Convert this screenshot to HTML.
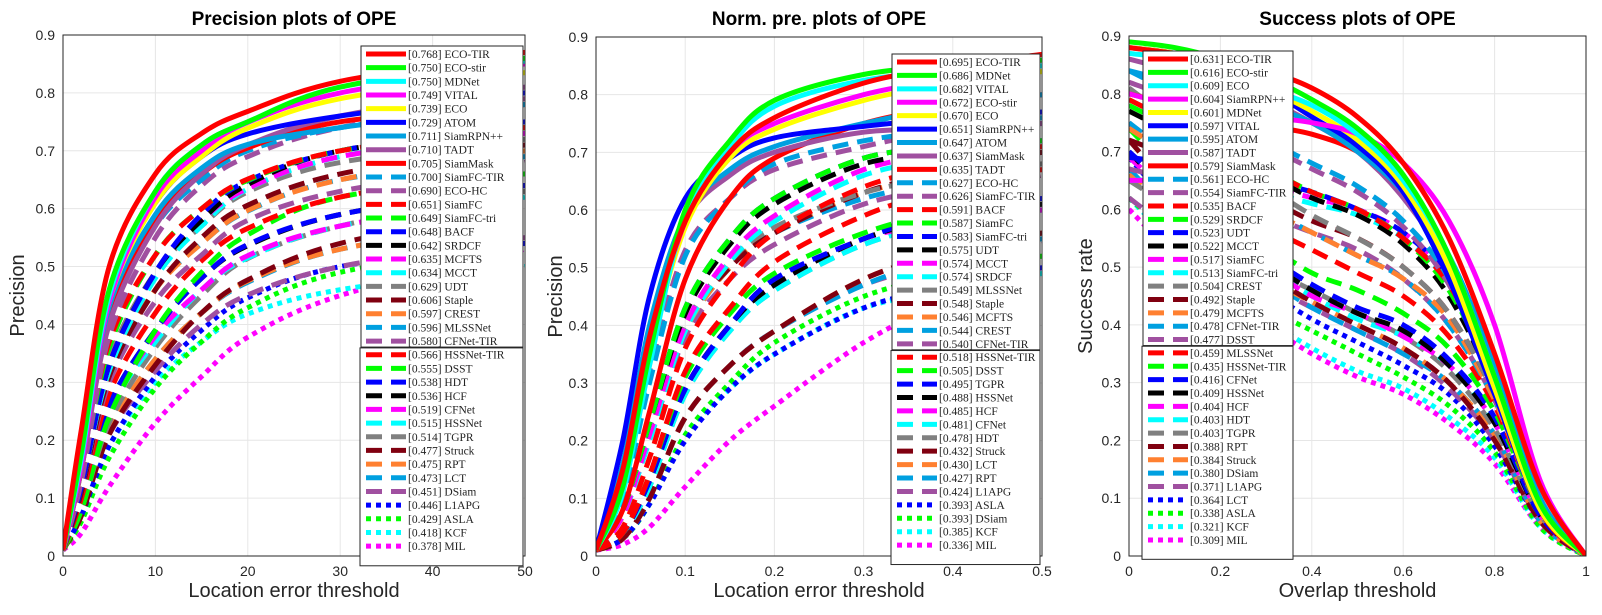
<!DOCTYPE html>
<html><head><meta charset="utf-8">
<style>
html,body{margin:0;padding:0;background:#fff;}
svg{display:block;}
.tick{font-family:"Liberation Sans",sans-serif;font-size:14px;fill:#262626;}
.ttl{font-family:"Liberation Sans",sans-serif;font-size:19px;font-weight:bold;fill:#000;}
.lab{font-family:"Liberation Sans",sans-serif;font-size:20px;fill:#262626;}
.leg{font-family:"Liberation Serif",serif;font-size:11.5px;fill:#222;}
</style></head>
<body>
<svg id="chart" width="1602" height="615" viewBox="0 0 1602 615" xmlns="http://www.w3.org/2000/svg"></svg>
<script>
const colors = ["#ff0000","#00ff00","#00ffff","#ff00ff","#ffff00","#0000ff","#00a0e0","#a050a0","#ff0000",
 "#00a0e0","#a050a0","#ff0000","#00ff00","#0000ff","#000000","#ff00ff","#00ffff","#808080","#800010","#ff8030","#00a0e0","#a050a0",
 "#ff0000","#00ff00","#0000ff","#000000","#ff00ff","#00ffff","#808080","#800010","#ff8030","#00a0e0","#a050a0",
 "#0000ff","#00ff00","#00ffff","#ff00ff"];

const p1X = [0,2,5,10,15,20,30,50];
const p1Names = ["ECO-TIR","ECO-stir","MDNet","VITAL","ECO","ATOM","SiamRPN++","TADT","SiamMask","SiamFC-TIR","ECO-HC","SiamFC","SiamFC-tri","BACF","SRDCF","MCFTS","MCCT","UDT","Staple","CREST","MLSSNet","CFNet-TIR","HSSNet-TIR","DSST","HDT","HCF","CFNet","HSSNet","TGPR","Struck","RPT","LCT","DSiam","L1APG","ASLA","KCF","MIL"];
const p1Scores = ["0.768","0.750","0.750","0.749","0.739","0.729","0.711","0.710","0.705","0.700","0.690","0.651","0.649","0.648","0.642","0.635","0.634","0.629","0.606","0.597","0.596","0.580","0.566","0.555","0.538","0.536","0.519","0.515","0.514","0.477","0.475","0.473","0.451","0.446","0.429","0.418","0.378"];
const p1Y = [
[0.01,0.22,0.50,0.66,0.73,0.768,0.82,0.87],
[0.01,0.18,0.46,0.63,0.71,0.750,0.81,0.86],
[0.01,0.17,0.45,0.63,0.71,0.750,0.81,0.855],
[0.01,0.16,0.44,0.62,0.70,0.749,0.80,0.85],
[0.01,0.17,0.44,0.61,0.69,0.739,0.79,0.835],
[0.01,0.18,0.45,0.61,0.69,0.729,0.76,0.80],
[0.01,0.17,0.43,0.59,0.67,0.711,0.74,0.78],
[0.01,0.15,0.40,0.57,0.66,0.710,0.76,0.81],
[0.01,0.15,0.41,0.58,0.66,0.705,0.75,0.78],
[0.01,0.16,0.41,0.57,0.65,0.700,0.74,0.78],
[0.01,0.13,0.38,0.55,0.64,0.690,0.74,0.79],
[0.01,0.14,0.37,0.52,0.60,0.651,0.70,0.74],
[0.01,0.14,0.36,0.52,0.60,0.649,0.70,0.74],
[0.01,0.12,0.33,0.49,0.59,0.648,0.70,0.75],
[0.01,0.12,0.33,0.49,0.58,0.642,0.70,0.74],
[0.01,0.12,0.33,0.49,0.58,0.635,0.69,0.73],
[0.01,0.12,0.32,0.48,0.57,0.634,0.69,0.74],
[0.01,0.13,0.34,0.49,0.57,0.629,0.68,0.72],
[0.01,0.11,0.31,0.46,0.55,0.606,0.66,0.71],
[0.01,0.12,0.32,0.46,0.54,0.597,0.65,0.70],
[0.01,0.12,0.31,0.46,0.54,0.596,0.65,0.69],
[0.01,0.11,0.30,0.44,0.52,0.580,0.63,0.68],
[0.01,0.10,0.28,0.42,0.51,0.566,0.62,0.67],
[0.01,0.08,0.24,0.39,0.49,0.555,0.62,0.66],
[0.01,0.09,0.26,0.39,0.48,0.538,0.59,0.64],
[0.01,0.09,0.26,0.39,0.48,0.536,0.59,0.64],
[0.01,0.09,0.25,0.38,0.46,0.519,0.57,0.62],
[0.01,0.09,0.25,0.37,0.46,0.515,0.57,0.62],
[0.01,0.08,0.23,0.36,0.45,0.514,0.57,0.63],
[0.01,0.07,0.21,0.33,0.42,0.477,0.54,0.60],
[0.01,0.08,0.22,0.34,0.42,0.475,0.53,0.58],
[0.01,0.08,0.22,0.34,0.42,0.473,0.53,0.58],
[0.01,0.08,0.21,0.32,0.40,0.451,0.50,0.55],
[0.01,0.07,0.19,0.31,0.39,0.446,0.50,0.54],
[0.01,0.06,0.17,0.29,0.37,0.429,0.49,0.54],
[0.01,0.07,0.19,0.30,0.37,0.418,0.46,0.50],
[0.01,0.04,0.12,0.23,0.31,0.378,0.45,0.53]];
const p1XTicks = ["0","10","20","30","40","50"];

const p2X = [0,0.03,0.06,0.1,0.15,0.2,0.3,0.4,0.5];
const p2Names = ["ECO-TIR","MDNet","VITAL","ECO-stir","ECO","SiamRPN++","ATOM","SiamMask","TADT","ECO-HC","SiamFC-TIR","BACF","SiamFC","SiamFC-tri","UDT","MCCT","SRDCF","MLSSNet","Staple","MCFTS","CREST","CFNet-TIR","HSSNet-TIR","DSST","TGPR","HSSNet","HCF","CFNet","HDT","Struck","LCT","RPT","L1APG","ASLA","DSiam","KCF","MIL"];
const p2Scores = ["0.695","0.686","0.682","0.672","0.670","0.651","0.647","0.637","0.635","0.627","0.626","0.591","0.587","0.583","0.575","0.574","0.574","0.549","0.548","0.546","0.544","0.540","0.518","0.505","0.495","0.488","0.485","0.481","0.478","0.432","0.430","0.427","0.424","0.393","0.393","0.385","0.336"];
const p2Y = [
[0.01,0.15,0.38,0.58,0.70,0.76,0.82,0.85,0.87],
[0.01,0.12,0.35,0.60,0.72,0.79,0.835,0.85,0.86],
[0.01,0.11,0.33,0.59,0.71,0.78,0.825,0.84,0.85],
[0.01,0.13,0.36,0.58,0.70,0.75,0.80,0.83,0.86],
[0.01,0.12,0.35,0.57,0.69,0.74,0.79,0.82,0.84],
[0.01,0.20,0.45,0.62,0.69,0.725,0.745,0.76,0.77],
[0.01,0.16,0.40,0.59,0.67,0.71,0.75,0.78,0.80],
[0.01,0.14,0.38,0.58,0.66,0.70,0.735,0.74,0.75],
[0.01,0.08,0.25,0.48,0.62,0.69,0.75,0.78,0.80],
[0.01,0.10,0.30,0.52,0.62,0.68,0.72,0.74,0.76],
[0.01,0.12,0.32,0.53,0.62,0.67,0.71,0.74,0.75],
[0.01,0.05,0.17,0.36,0.48,0.56,0.64,0.68,0.71],
[0.01,0.08,0.23,0.43,0.55,0.62,0.69,0.71,0.72],
[0.01,0.08,0.23,0.43,0.55,0.62,0.69,0.71,0.72],
[0.01,0.08,0.23,0.42,0.54,0.61,0.68,0.70,0.71],
[0.01,0.07,0.21,0.40,0.52,0.59,0.67,0.70,0.72],
[0.01,0.07,0.20,0.39,0.51,0.58,0.66,0.69,0.71],
[0.01,0.08,0.22,0.40,0.51,0.57,0.63,0.66,0.68],
[0.01,0.07,0.21,0.40,0.50,0.56,0.63,0.67,0.70],
[0.01,0.07,0.21,0.39,0.50,0.56,0.63,0.66,0.68],
[0.01,0.07,0.21,0.39,0.50,0.56,0.62,0.65,0.67],
[0.01,0.07,0.20,0.38,0.48,0.54,0.61,0.64,0.66],
[0.01,0.04,0.14,0.32,0.43,0.51,0.59,0.64,0.67],
[0.01,0.04,0.14,0.31,0.42,0.49,0.56,0.60,0.62],
[0.01,0.04,0.13,0.29,0.40,0.48,0.55,0.60,0.62],
[0.01,0.04,0.13,0.29,0.40,0.47,0.55,0.59,0.61],
[0.01,0.04,0.13,0.29,0.40,0.47,0.55,0.58,0.60],
[0.01,0.04,0.12,0.28,0.39,0.46,0.54,0.58,0.60],
[0.01,0.04,0.12,0.28,0.39,0.46,0.54,0.58,0.60],
[0.01,0.03,0.10,0.24,0.33,0.39,0.48,0.53,0.56],
[0.01,0.03,0.10,0.24,0.33,0.39,0.48,0.53,0.56],
[0.01,0.03,0.10,0.24,0.33,0.39,0.47,0.52,0.55],
[0.01,0.03,0.10,0.24,0.33,0.39,0.47,0.51,0.54],
[0.01,0.03,0.09,0.20,0.29,0.35,0.43,0.47,0.50],
[0.01,0.03,0.09,0.21,0.30,0.37,0.45,0.49,0.52],
[0.01,0.03,0.09,0.21,0.29,0.35,0.43,0.46,0.49],
[0.01,0.02,0.05,0.12,0.20,0.26,0.37,0.45,0.52]];
const p2XTicks = ["0","0.1","0.2","0.3","0.4","0.5"];

const p3X = [0,0.1,0.2,0.3,0.4,0.5,0.6,0.7,0.8,0.9,1];
const p3Names = ["ECO-TIR","ECO-stir","ECO","SiamRPN++","MDNet","VITAL","ATOM","TADT","SiamMask","ECO-HC","SiamFC-TIR","BACF","SRDCF","UDT","MCCT","SiamFC","SiamFC-tri","CREST","Staple","MCFTS","CFNet-TIR","DSST","MLSSNet","HSSNet-TIR","CFNet","HSSNet","HCF","HDT","TGPR","RPT","Struck","DSiam","L1APG","LCT","ASLA","KCF","MIL"];
const p3Scores = ["0.631","0.616","0.609","0.604","0.601","0.597","0.595","0.587","0.579","0.561","0.554","0.535","0.529","0.523","0.522","0.517","0.513","0.504","0.492","0.479","0.478","0.477","0.459","0.435","0.416","0.409","0.404","0.403","0.403","0.388","0.384","0.380","0.371","0.364","0.338","0.321","0.309"];
const p3Y = [
[0.88,0.87,0.86,0.84,0.81,0.76,0.68,0.55,0.35,0.12,0],
[0.89,0.88,0.86,0.83,0.79,0.74,0.66,0.52,0.31,0.09,0],
[0.87,0.86,0.84,0.81,0.78,0.73,0.65,0.52,0.31,0.09,0],
[0.80,0.78,0.77,0.76,0.75,0.73,0.68,0.58,0.40,0.13,0],
[0.88,0.87,0.85,0.81,0.77,0.72,0.64,0.50,0.29,0.08,0],
[0.88,0.87,0.85,0.81,0.76,0.71,0.63,0.48,0.28,0.08,0],
[0.84,0.82,0.80,0.78,0.75,0.70,0.63,0.52,0.33,0.10,0],
[0.86,0.84,0.82,0.79,0.75,0.70,0.62,0.50,0.31,0.09,0],
[0.80,0.78,0.76,0.745,0.73,0.70,0.64,0.52,0.32,0.08,0],
[0.84,0.80,0.76,0.72,0.68,0.64,0.58,0.48,0.30,0.09,0],
[0.82,0.79,0.75,0.71,0.67,0.63,0.57,0.47,0.30,0.09,0],
[0.79,0.75,0.71,0.67,0.63,0.60,0.55,0.47,0.31,0.09,0],
[0.78,0.74,0.70,0.67,0.63,0.60,0.55,0.46,0.30,0.08,0],
[0.69,0.68,0.67,0.65,0.63,0.60,0.56,0.48,0.32,0.09,0],
[0.77,0.73,0.69,0.66,0.62,0.59,0.54,0.45,0.29,0.08,0],
[0.65,0.65,0.65,0.64,0.62,0.60,0.56,0.48,0.31,0.09,0],
[0.65,0.65,0.64,0.63,0.61,0.59,0.55,0.47,0.31,0.09,0],
[0.81,0.75,0.69,0.64,0.59,0.55,0.50,0.42,0.28,0.08,0],
[0.72,0.69,0.66,0.62,0.58,0.55,0.50,0.42,0.28,0.08,0],
[0.74,0.69,0.64,0.60,0.56,0.52,0.48,0.41,0.27,0.08,0],
[0.75,0.69,0.64,0.60,0.56,0.52,0.48,0.40,0.27,0.08,0],
[0.67,0.65,0.62,0.59,0.56,0.53,0.48,0.40,0.27,0.08,0],
[0.75,0.68,0.62,0.57,0.53,0.49,0.45,0.38,0.26,0.08,0],
[0.74,0.66,0.59,0.54,0.49,0.46,0.42,0.36,0.25,0.08,0],
[0.70,0.63,0.57,0.52,0.47,0.43,0.40,0.34,0.24,0.07,0],
[0.70,0.62,0.56,0.51,0.46,0.42,0.39,0.33,0.23,0.07,0],
[0.69,0.62,0.55,0.50,0.45,0.42,0.38,0.33,0.23,0.07,0],
[0.70,0.62,0.55,0.50,0.45,0.41,0.38,0.33,0.23,0.07,0],
[0.65,0.60,0.55,0.50,0.46,0.42,0.38,0.32,0.22,0.07,0],
[0.72,0.63,0.55,0.49,0.44,0.40,0.36,0.30,0.20,0.06,0],
[0.66,0.59,0.53,0.48,0.44,0.40,0.36,0.30,0.21,0.06,0],
[0.67,0.59,0.53,0.48,0.43,0.39,0.35,0.30,0.21,0.06,0],
[0.62,0.56,0.51,0.47,0.43,0.39,0.35,0.29,0.20,0.06,0],
[0.69,0.60,0.52,0.46,0.41,0.37,0.33,0.28,0.19,0.06,0],
[0.62,0.55,0.48,0.43,0.39,0.35,0.31,0.26,0.18,0.05,0],
[0.62,0.54,0.47,0.41,0.36,0.32,0.29,0.24,0.17,0.05,0],
[0.60,0.52,0.45,0.40,0.35,0.31,0.28,0.23,0.16,0.05,0]];
const p3XTicks = ["0","0.2","0.4","0.6","0.8","1"];

const yTicks = ["0","0.1","0.2","0.3","0.4","0.5","0.6","0.7","0.8","0.9"];

const NS = "http://www.w3.org/2000/svg";
const svg = document.getElementById("chart");
function el(tag, attrs, parent) {
  const e = document.createElementNS(NS, tag);
  for (const k in attrs) e.setAttribute(k, attrs[k]);
  (parent || svg).appendChild(e);
  return e;
}
function styleFor(i) {
  if (i <= 8) return "none";
  if (i <= 32) return "16 9";
  return "5 5";
}
function smoothPath(pts) {
  let d = "M" + pts[0][0].toFixed(1) + "," + pts[0][1].toFixed(1);
  for (let i = 0; i < pts.length - 1; i++) {
    const p0 = pts[Math.max(0, i - 1)], p1 = pts[i], p2 = pts[i + 1], p3 = pts[Math.min(pts.length - 1, i + 2)];
    const c1x = p1[0] + (p2[0] - p0[0]) / 6, c1y = p1[1] + (p2[1] - p0[1]) / 6;
    const c2x = p2[0] - (p3[0] - p1[0]) / 6, c2y = p2[1] - (p3[1] - p1[1]) / 6;
    d += " C" + c1x.toFixed(1) + "," + c1y.toFixed(1) + " " + c2x.toFixed(1) + "," + c2y.toFixed(1) + " " + p2[0].toFixed(1) + "," + p2[1].toFixed(1);
  }
  return d;
}

function panel(cfg) {
  const g = el("g", {});
  
  
  const {L, R, T, B, xMax} = cfg;
  const xs = v => L + (v / xMax) * (R - L);
  const ys = v => B - (v / 0.9) * (B - T);
  for (let i = 0; i < yTicks.length; i++) {
    const y = ys(i * 0.1);
    const gl = el("line", {x1: L, x2: R, y1: y, y2: y, stroke: "#e6e6e6", "stroke-width": 1}, g);
    
    
    const t = el("text", {x: L - 8, y: y + 5, "text-anchor": "end", class: "tick"}, g);
    t.textContent = yTicks[i];
    
    
  }
  for (let i = 0; i < cfg.xTicks.length; i++) {
    const v = parseFloat(cfg.xTicks[i]);
    const x = xs(v);
    const gl = el("line", {x1: x, x2: x, y1: T, y2: B, stroke: "#e6e6e6", "stroke-width": 1}, g);
    
    
    const t = el("text", {x: x, y: B + 20, "text-anchor": "middle", class: "tick"}, g);
    t.textContent = cfg.xTicks[i];
    
    
  }
  const cp = el("clipPath", {id: "clip-" + cfg.key}, g);
  el("rect", {x: L, y: T, width: R - L, height: B - T}, cp);
  const cg = el("g", {"clip-path": "url(#clip-" + cfg.key + ")"}, g);
  for (let i = cfg.ys.length - 1; i >= 0; i--) {
    const pts = cfg.x.map((xv, j) => [xs(xv), ys(cfg.ys[i][j])]);
    const p = el("path", {d: smoothPath(pts), fill: "none", stroke: colors[i], "stroke-width": 5, "stroke-dasharray": styleFor(i)}, cg);
    
    
  }
  const box = el("rect", {x: L, y: T, width: R - L, height: B - T, fill: "none", stroke: "#262626", "stroke-width": 1}, g);
  
  
  const tt = el("text", {x: (L + R) / 2, y: 25, "text-anchor": "middle", class: "ttl"}, g);
  tt.textContent = cfg.title;
  
  
  const xl = el("text", {x: (L + R) / 2, y: 597, "text-anchor": "middle", class: "lab"}, g);
  xl.textContent = cfg.xLabel;
  
  
  const yc = (T + B) / 2;
  const yl = el("text", {x: cfg.yLabelX, y: yc, "text-anchor": "middle", class: "lab", transform: "rotate(-90 " + cfg.yLabelX + " " + yc + ")"}, g);
  yl.textContent = cfg.yLabel;
  
  
  const lg = el("g", {}, g);
  
  
  const {lx, lr, ly0, step} = cfg;
  const n = cfg.names.length;
  el("rect", {x: lx, y: ly0 - 8, width: lr - lx, height: step * 21 + 14, fill: "#fff", stroke: "#262626", "stroke-width": 1}, lg);
  const drawRow = (i, parent) => {
    const y = ly0 + i * step;
    const e = el("g", {}, parent);
    
    
    el("line", {x1: lx + 5, x2: lx + 45, y1: y, y2: y, stroke: colors[i], "stroke-width": 5, "stroke-dasharray": styleFor(i)}, e);
    const t = el("text", {x: lx + 47, y: y + 4, class: "leg"}, e);
    t.textContent = "[" + cfg.scores[i] + "] " + cfg.names[i];
  };
  for (let i = 0; i <= 21; i++) drawRow(i, lg);
  const lg2 = el("g", {}, g);
  
  
  el("rect", {x: lx - 1, y: ly0 + 21.5 * step, width: lr - lx + 1, height: step * 15.5 + 6, fill: "#fff", stroke: "#262626", "stroke-width": 1}, lg2);
  for (let i = 22; i < n; i++) drawRow(i, lg2);
}

panel({key: "precision", L: 63, R: 525, T: 35, B: 556, xMax: 50, x: p1X, ys: p1Y, names: p1Names, scores: p1Scores, xTicks: p1XTicks,
  title: "Precision plots of OPE", xLabel: "Location error threshold", yLabel: "Precision", yLabelX: 24,
  lx: 361, lr: 523, ly0: 54, step: 13.67});
panel({key: "normpre", L: 596, R: 1042, T: 37, B: 556, xMax: 0.5, x: p2X, ys: p2Y, names: p2Names, scores: p2Scores, xTicks: p2XTicks,
  title: "Norm. pre. plots of OPE", xLabel: "Location error threshold", yLabel: "Precision", yLabelX: 562,
  lx: 892, lr: 1040, ly0: 62, step: 13.42});
panel({key: "success", L: 1129, R: 1586, T: 36, B: 556, xMax: 1, x: p3X, ys: p3Y, names: p3Names, scores: p3Scores, xTicks: p3XTicks,
  title: "Success plots of OPE", xLabel: "Overlap threshold", yLabel: "Success rate", yLabelX: 1092,
  lx: 1143, lr: 1293, ly0: 59, step: 13.36});
</script>
</body></html>
